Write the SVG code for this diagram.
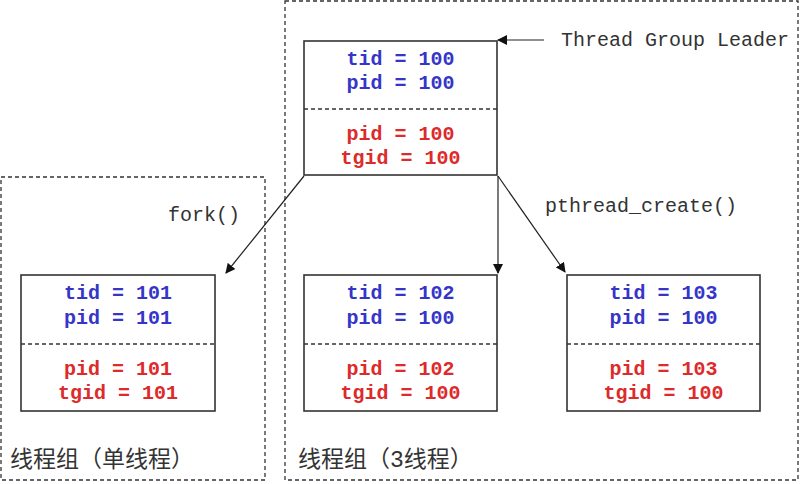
<svg xmlns="http://www.w3.org/2000/svg" width="806" height="484" viewBox="0 0 806 484">
<style>
.grp{fill:none;stroke:#333;stroke-width:1.3;stroke-dasharray:4 3}
.box{fill:#fff;stroke:#333;stroke-width:1.6}
.div{stroke:#333;stroke-width:1.3;stroke-dasharray:4 3}
.t{font-family:"Liberation Mono","DejaVu Sans Mono",monospace;font-weight:bold;font-size:20px;text-anchor:middle}
.b{fill:#3535c8}
.r{fill:#dd2a2a}
.lbl{font-family:"Liberation Mono","DejaVu Sans Mono",monospace;font-size:20px;fill:#333}
.cjk{font-family:"Liberation Mono","Noto Sans CJK SC",monospace;font-size:23px;fill:#333}
.con{stroke:#222;stroke-width:1.2;fill:none;marker-end:url(#ah)}
</style>
<defs>
<marker id="ah" viewBox="0 0 10 10" refX="9" refY="5" markerWidth="10" markerHeight="10" markerUnits="userSpaceOnUse" orient="auto">
<path d="M0,0 L10,5 L0,10 z" fill="#111"/>
</marker>
</defs>
<rect width="806" height="484" fill="#fff"/>
<g id="group-single">
<rect class="grp" x="1" y="177" width="264" height="303"/>
<text class="cjk" x="10" y="467">线程组（单线程）</text>
</g>
<g id="group-three">
<rect class="grp" x="285" y="1" width="513" height="479"/>
<text class="cjk" x="298" y="467">线程组（3线程）</text>
</g>
<g id="leader">
<rect class="box" x="304" y="41" width="193" height="134"/>
<line class="div" x1="304" y1="109" x2="497" y2="109"/>
<text class="t b" x="400.5" y="65">tid = 100</text>
<text class="t b" x="400.5" y="89">pid = 100</text>
<text class="t r" x="400.5" y="140">pid = 100</text>
<text class="t r" x="400.5" y="164">tgid = 100</text>
</g>
<g id="proc101">
<rect class="box" x="21" y="275" width="194" height="136"/>
<line class="div" x1="21" y1="344" x2="215" y2="344"/>
<text class="t b" x="118" y="299">tid = 101</text>
<text class="t b" x="118" y="324">pid = 101</text>
<text class="t r" x="118" y="375">pid = 101</text>
<text class="t r" x="118" y="399">tgid = 101</text>
</g>
<g id="thread102">
<rect class="box" x="304" y="275" width="193" height="136"/>
<line class="div" x1="304" y1="344" x2="497" y2="344"/>
<text class="t b" x="400.5" y="299">tid = 102</text>
<text class="t b" x="400.5" y="324">pid = 100</text>
<text class="t r" x="400.5" y="375">pid = 102</text>
<text class="t r" x="400.5" y="399">tgid = 100</text>
</g>
<g id="thread103">
<rect class="box" x="567" y="275" width="193" height="136"/>
<line class="div" x1="567" y1="344" x2="760" y2="344"/>
<text class="t b" x="663.5" y="299">tid = 103</text>
<text class="t b" x="663.5" y="324">pid = 100</text>
<text class="t r" x="663.5" y="375">pid = 103</text>
<text class="t r" x="663.5" y="399">tgid = 100</text>
</g>
<g id="connectors">
<line class="con" x1="544" y1="40" x2="498" y2="40"/>
<line class="con" x1="304" y1="176" x2="226" y2="273"/>
<line class="con" x1="498" y1="176" x2="498" y2="273"/>
<line class="con" x1="498" y1="176" x2="565" y2="272"/>
<text class="lbl" x="561" y="46">Thread Group Leader</text>
<text class="lbl" x="168" y="221">fork()</text>
<text class="lbl" x="545" y="212">pthread_create()</text>
</g>
</svg>
